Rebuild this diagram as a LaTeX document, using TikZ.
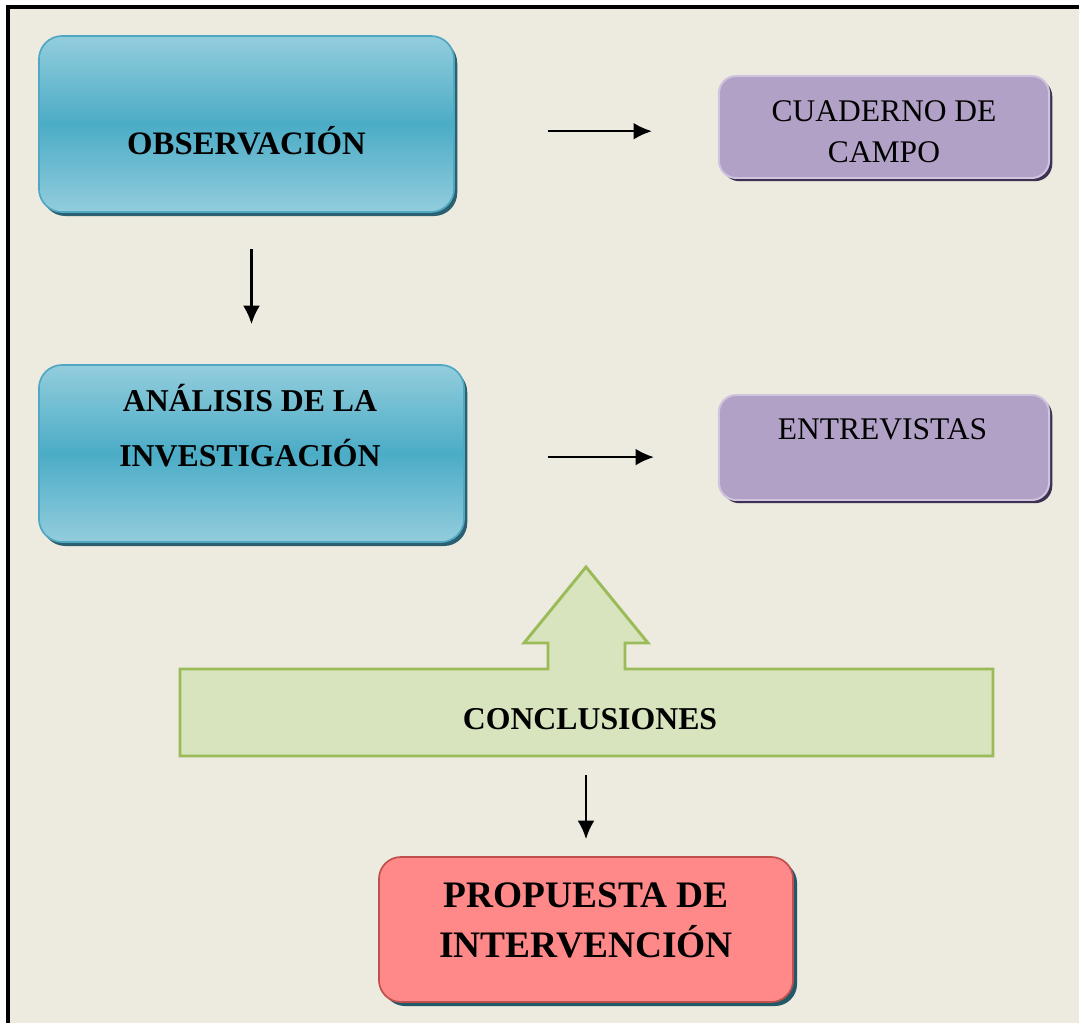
\documentclass[tikz,border=0pt]{standalone}
\usepackage{fontspec}
\setmainfont{Liberation Serif}
\usetikzlibrary{arrows.meta, shadows}

\definecolor{paper}{RGB}{237,234,224}
\definecolor{bluelight}{RGB}{147,205,221}
\definecolor{bluedark}{RGB}{75,172,198}
\definecolor{blueline}{RGB}{79,167,194}
\definecolor{blueshadow}{RGB}{42,96,112}
\definecolor{lilac}{RGB}{178,161,199}
\definecolor{lilacline}{RGB}{207,196,222}
\definecolor{lilacshadow}{RGB}{63,49,81}
\definecolor{rose}{RGB}{255,137,137}
\definecolor{roseline}{RGB}{192,80,77}
\definecolor{roseshadow}{RGB}{33,89,104}
\definecolor{sage}{RGB}{215,228,189}
\definecolor{sageline}{RGB}{155,187,89}

\begin{document}
\begin{tikzpicture}[x=0.025cm, y=-0.025cm, >={Latex[length=0.46cm, width=0.42cm]},
bluebox/.style={draw=blueline, line width=1.2pt, rounded corners=0.58cm, top color=bluelight, bottom color=bluelight, middle color=bluedark, drop shadow={shadow xshift=0.08cm, shadow yshift=-0.1cm, fill=blueshadow, opacity=1}},
lilacbox/.style={draw=lilacline, fill=lilac, line width=1.4pt, rounded corners=0.43cm, minimum width=8.25cm, drop shadow={shadow xshift=0.08cm, shadow yshift=-0.08cm, fill=lilacshadow, opacity=1}},
rosebox/.style={draw=roseline, fill=rose, line width=1.2pt, rounded corners=0.55cm, drop shadow={shadow xshift=0.1cm, shadow yshift=-0.1cm, fill=roseshadow, opacity=1}},
boldtext/.style={font=\fontsize{22.6}{39}\selectfont\bfseries, align=center, inner sep=0pt},
plaintext/.style={font=\fontsize{22.4}{29}\selectfont, align=center, inner sep=0pt},
bigtext/.style={font=\fontsize{26.6}{35.4}\selectfont\bfseries, align=center, inner sep=0pt},
flow/.style={->, line width=1.6pt}]

\useasboundingbox (0,0) rectangle (1079,1023);

% page and frame
\fill[white] (0,0) rectangle (1079,1023);

\fill[paper] (8,7) rectangle (1079,1023);

\draw[line width=2.2pt] (8,1023)--(8,7)--(1079,7);

% boxes
\node[bluebox, minimum width=10.375cm, minimum height=4.4cm] (obs) at (246.5,124) {};

\node[bluebox, minimum width=10.625cm, minimum height=4.425cm] (ana) at (251.5,453.5) {};

\node[lilacbox, minimum height=2.55cm] (cua) at (884,127) {};

\node[lilacbox, minimum height=2.625cm] (ent) at (884,447.5) {};

\node[rosebox, minimum width=10.35cm, minimum height=3.625cm] (prop) at (586,929.5) {};

% block arrow of the conclusions
\draw[sageline, fill=sage, line width=2.1pt] (180,669)--(548,669)--(548,643)--(524,643)--(586,567)--(648,643)--(625,643)--(625,669)--(993,669)--(993,756)--(180,756)--cycle;

% texts
\node[boldtext, font=\fontsize{23.3}{39}\selectfont\bfseries] (obs-txt) at (246.5,140.6) {OBSERVACIÓN};

\node[boldtext] (ana-txt) at (250,426) {ANÁLISIS DE LA\\INVESTIGACIÓN};

\node[plaintext] (cua-txt) at (884,132) {CUADERNO DE\\CAMPO};

\node[plaintext] (ent-txt) at (882.5,429.5) {ENTREVISTAS};

\node[boldtext] (concl) at (590,719.5) {CONCLUSIONES};

\node[bigtext] (prop-txt) at (586,920.7) {PROPUESTA DE\\INTERVENCIÓN};

% connectors
\coordinate (obs-out) at ([yshift=-0.18cm]obs.east);

\coordinate (ana-out) at ([yshift=-0.09cm]ana.east);

\draw[flow, shorten <=2.325cm, shorten >=1.65cm] (obs-out)--(obs-out -| cua.west);

\draw[flow, shorten <=0.9cm, shorten >=1.0cm] (obs.south -| ana.north)--(ana.north);

\draw[flow, shorten <=2.075cm, shorten >=1.6cm] (ana-out)--(ana-out -| ent.west);

\draw[flow, shorten <=1.125cm, shorten >=0.425cm] (concl.south -| prop.north)--(prop.north);

\end{tikzpicture}
\end{document}
